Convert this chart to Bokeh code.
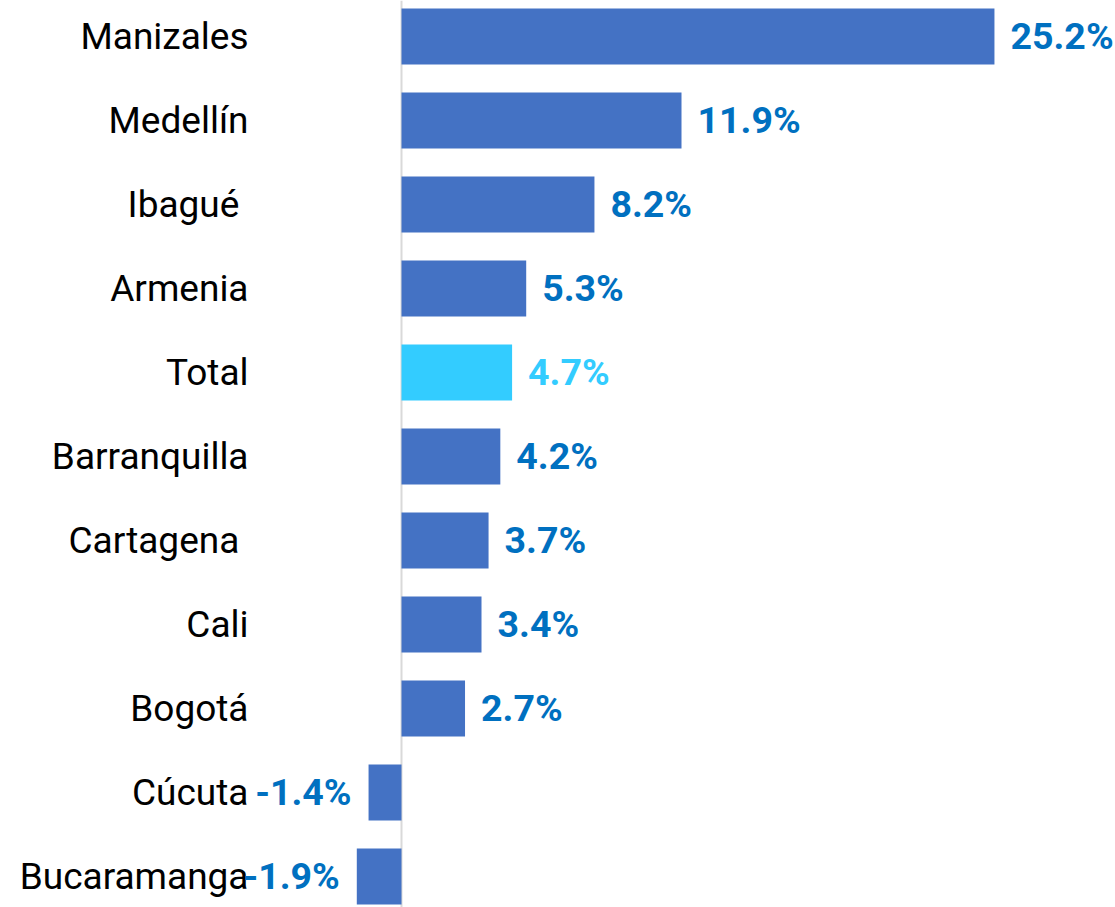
from bokeh.plotting import figure
from bokeh.models import ColumnDataSource, Range1d, Span
from bokeh.core.properties import value
from bokeh.embed import file_html
from bokeh.resources import INLINE

cities = ["Manizales", "Medellín", "Ibagué ", "Armenia", "Total", "Barranquilla",
          "Cartagena ", "Cali", "Bogotá", "Cúcuta", "Bucaramanga"]
growth = [25.2, 11.9, 8.2, 5.3, 4.7, 4.2, 3.7, 3.4, 2.7, -1.4, -1.9]
highlight = "Total"

BAR = "#4472C4"
HI = "#33CCFF"
LBL = "#0070C0"

W, H = 1115, 907
px_per_unit = 23.53
zero_px = 401
row_px = 84
first_px = 36

idx = list(range(len(cities)))
bar_colors = [HI if c == highlight else BAR for c in cities]
lbl_colors = [HI if c == highlight else LBL for c in cities]
labels = [f"{v:.1f}%" for v in growth]
aligns = ["left" if v >= 0 else "right" for v in growth]
offsets = [16 if v >= 0 else -17 for v in growth]

src = ColumnDataSource(dict(y=idx, v=growth, zero=[0] * len(idx), name=cities,
                            bc=bar_colors, lc=lbl_colors, lab=labels,
                            al=aligns, off=offsets))

x0 = -zero_px / px_per_unit
p = figure(width=W, height=H, output_backend="svg", toolbar_location=None,
           x_range=Range1d(x0, x0 + W / px_per_unit),
           y_range=Range1d((H - first_px) / row_px, -first_px / row_px),
           min_border=0, min_border_left=0, min_border_right=0,
           min_border_top=0, min_border_bottom=0)
p.axis.visible = False
p.grid.visible = False
p.outline_line_color = None
p.background_fill_color = "white"

p.hbar(y="y", left="zero", right="v", height=0.667, fill_color="bc",
       line_color=None, source=src)

p.add_layout(Span(location=0, dimension="height", line_color="#D9D9D9",
                  line_width=2, level="underlay"))

p.text(x="zero", y="y", text="name", x_offset=-153, text_align="right",
       text_baseline="middle", text_font=value("Roboto"), text_font_size="37px",
       text_color="black", source=src)

p.text(x="v", y="y", text="lab", x_offset="off", text_align="al",
       text_baseline="middle", text_font=value("Roboto"), text_font_size="37.5px",
       text_font_style="bold", text_color="lc", source=src, y_offset=-1)

open("out.html", "w").write(file_html(p, INLINE))
